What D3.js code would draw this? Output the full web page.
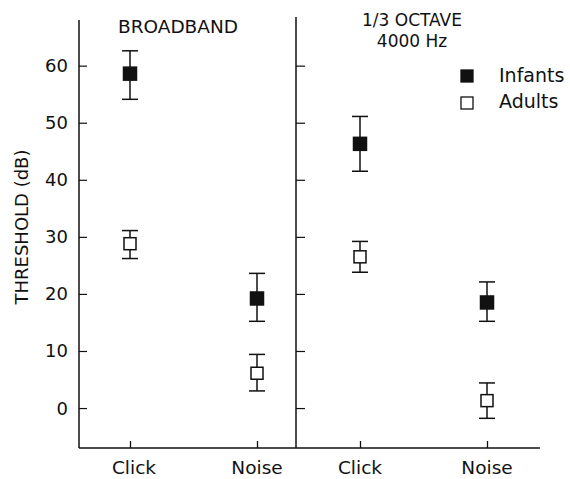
<!DOCTYPE html>
<html>
<head>
<meta charset="utf-8">
<script src="https://cdn.jsdelivr.net/npm/d3@7"></script>
<style>
  body { margin: 0; background: white; }
  text { font-family: "DejaVu Sans", sans-serif; fill: #111; }
</style>
</head>
<body>
<script>
'use strict';
// threshold data
const conditions = ["Click", "Noise"];
const panels = ["BROADBAND", "1/3 OCTAVE"];
const yTicks = [0, 10, 20, 30, 40, 50, 60];

// [panel][condition]
const infantMean = [[58.6, 19.2], [46.3, 18.5]];
const infantLow = [[54.1, 15.2], [41.5, 15.2]];
const infantHigh = [[62.6, 23.6], [51.1, 22.1]];
const adultMean = [[28.8, 6.1], [26.5, 1.3]];
const adultLow = [[26.2, 3.0], [23.8, -1.8]];
const adultHigh = [[31.1, 9.4], [29.2, 4.4]];

(function() {
    let svg = d3.select('body').append('svg')
        .attr('width', 570)
        .attr('height', 479);

    let yScale = d3.scaleLinear()
        .domain([-7, 68])
        .range([448, 20]);

    // each panel gets its own point scale
    let xScales = [
        d3.scalePoint().domain(conditions).range([130, 257]),
        d3.scalePoint().domain(conditions).range([360, 487])
    ];

    // left axis ticks + labels
    svg.append('g')
        .attr('transform', 'translate(79,0)')
        .call(d3.axisRight(yScale).tickValues(yTicks).tickSize(8).tickFormat(''))
        .call(g => g.select('.domain').remove());
    svg.selectAll('.ylab')
        .data(yTicks)
        .enter()
        .append('text')
        .attr('x', 68)
        .attr('y', d => yScale(d) + 6.5)
        .attr('text-anchor', 'end')
        .style('font-size', '18px')
        .text(d => d);

    // divider ticks for right panel
    svg.append('g')
        .attr('transform', 'translate(296,0)')
        .call(d3.axisRight(yScale).tickValues(yTicks).tickSize(9).tickFormat(''))
        .call(g => g.select('.domain').remove());

    svg.selectAll('line, path').attr('stroke', '#111').attr('stroke-width', 1.2);

    // frame lines
    svg.append('line').attr('x1', 79).attr('x2', 79).attr('y1', 20).attr('y2', 448)
        .attr('stroke', '#111').attr('stroke-width', 1.5);
    svg.append('line').attr('x1', 296).attr('x2', 296).attr('y1', 17).attr('y2', 448)
        .attr('stroke', '#111').attr('stroke-width', 1.5);
    svg.append('line').attr('x1', 79).attr('x2', 540).attr('y1', 448).attr('y2', 448)
        .attr('stroke', '#111').attr('stroke-width', 1.5);

    // x axes per panel
    xScales.forEach((xs, p) => {
        svg.append('g')
            .attr('transform', 'translate(0,448)')
            .call(d3.axisTop(xs).tickSize(7).tickFormat(''))
            .call(g => g.select('.domain').remove())
            .selectAll('line').attr('stroke', '#111').attr('stroke-width', 1.3);
        svg.selectAll('.xlab' + p)
            .data(conditions)
            .enter()
            .append('text')
            .attr('x', d => xs(d) + (p == 0 && d == 'Click' ? 4 : 0))
            .attr('y', 474)
            .attr('text-anchor', 'middle')
            .style('font-size', '18.5px')
            .text(d => d);
    });

    // error bars + markers
    function drawSeries(mean, low, high, filled, size) {
        xScales.forEach((xs, p) => {
            conditions.forEach((c, i) => {
                let x = xs(c);
                let g = svg.append('g').attr('stroke', '#111').attr('stroke-width', 1.5);
                g.append('line').attr('x1', x).attr('x2', x)
                    .attr('y1', yScale(low[p][i])).attr('y2', yScale(high[p][i]));
                [low[p][i], high[p][i]].forEach(v => {
                    g.append('line').attr('x1', x - 8).attr('x2', x + 8)
                        .attr('y1', yScale(v)).attr('y2', yScale(v));
                });
                g.append('rect')
                    .attr('x', x - size / 2)
                    .attr('y', yScale(mean[p][i]) - size / 2)
                    .attr('width', size)
                    .attr('height', size)
                    .attr('fill', filled ? '#111' : 'white');
            });
        });
    }
    drawSeries(adultMean, adultLow, adultHigh, false, 12);
    drawSeries(infantMean, infantLow, infantHigh, true, 13);

    // panel titles
    svg.append('text').attr('x', 178).attr('y', 33)
        .attr('text-anchor', 'middle').style('font-size', '18.5px').text(panels[0]);
    svg.append('text').attr('x', 412).attr('y', 26)
        .attr('text-anchor', 'middle').style('font-size', '17px').text(panels[1]);
    svg.append('text').attr('x', 412).attr('y', 47)
        .attr('text-anchor', 'middle').style('font-size', '17px').text('4000 Hz');

    // legend
    let legend = [{ name: 'Infants', fill: '#111' }, { name: 'Adults', fill: 'white' }];
    legend.forEach((d, i) => {
        svg.append('rect')
            .attr('x', 461).attr('y', 70 + i * 27)
            .attr('width', 12).attr('height', 12)
            .attr('fill', d.fill).attr('stroke', '#111').attr('stroke-width', 1.3);
        svg.append('text')
            .attr('x', 499).attr('y', 82 + i * 26)
            .style('font-size', '19px')
            .text(d.name);
    });

    // y label
    svg.append('text')
        .attr('transform', 'translate(28, 227)rotate(-90)')
        .attr('text-anchor', 'middle')
        .style('font-size', '18px')
        .text('THRESHOLD (dB)');
})();
</script>
</body>
</html>
